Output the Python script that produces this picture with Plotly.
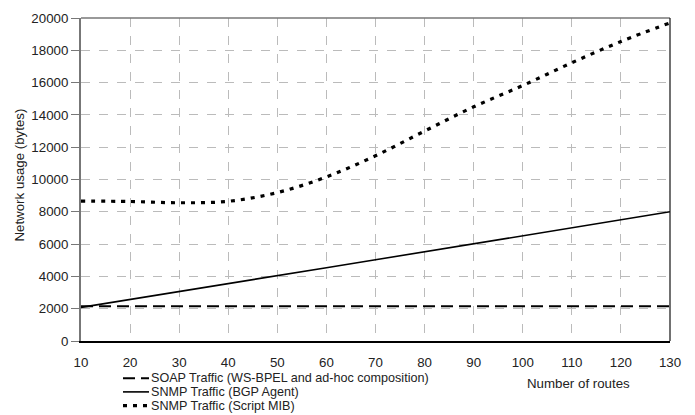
import plotly.graph_objects as go

# Number of routes (x) and network usage in bytes for each approach
routes = [10, 20, 30, 40, 50, 60, 70, 80, 90, 100, 110, 120, 130]
soap_ws_bpel = [2150, 2150, 2150, 2150, 2150, 2150, 2150, 2150, 2150, 2150, 2150, 2150, 2150]
snmp_bgp_agent = [2080, 2580, 3070, 3560, 4050, 4540, 5030, 5520, 6020, 6510, 7000, 7500, 8000]
snmp_script_mib = [8660, 8640, 8560, 8650, 9190, 10160, 11470, 13000, 14500, 15820, 17230, 18545, 19700]

series_names = [
    "SOAP Traffic (WS-BPEL and ad-hoc composition)",
    "SNMP Traffic (BGP Agent)",
    "SNMP Traffic (Script MIB)",
]
x_ticks = list(range(10, 131, 10))
y_ticks = list(range(0, 20001, 2000))

FONT = "Liberation Sans, Arial, Helvetica, sans-serif"
TXT = "#222222"
FS = 13.3
LEG_FS = 12.6

W, H = 695, 415
M_L, M_R, M_T, M_B = 81, 25, 11, 74
PLOT_H = H - M_T - M_B
PLOT_W = W - M_L - M_R

styles = [
    dict(color="black", width=2, dash="12px,6px"),
    dict(color="black", width=1.6, dash="solid"),
    dict(color="black", width=3.2, dash="4px,6px"),
]

fig = go.Figure()
for name, ys, st, shape in zip(series_names, [soap_ws_bpel, snmp_bgp_agent, snmp_script_mib], styles,
                               ["linear", "linear", "spline"]):
    fig.add_trace(go.Scatter(x=routes, y=ys, mode="lines", name=name,
                             line=dict(shape=shape, **st), showlegend=False))


def px_to_paper_x(px):
    return (px - M_L) / PLOT_W


def px_to_paper_y(py):
    return (H - M_B - py) / PLOT_H


# Hand-built compact legend below the plot
row_y = [379, 393, 407]
for name, st, py in zip(series_names, styles, row_y):
    yy = px_to_paper_y(py)
    fig.add_shape(type="line", xref="paper", yref="paper",
                  x0=px_to_paper_x(123), x1=px_to_paper_x(149), y0=yy, y1=yy,
                  line=dict(color="black", width=st["width"], dash=st["dash"]))
    fig.add_annotation(xref="paper", yref="paper", x=px_to_paper_x(150), y=yy,
                       text=name, showarrow=False, xanchor="left", yanchor="middle",
                       borderpad=0, font=dict(family=FONT, size=LEG_FS, color=TXT))

# Axis titles
fig.add_annotation(xref="paper", yref="paper", x=px_to_paper_x(578), y=px_to_paper_y(384),
                   text="Number of routes", showarrow=False, xanchor="center", yanchor="middle",
                   font=dict(family=FONT, size=FS, color=TXT))
fig.add_annotation(xref="paper", yref="paper", x=px_to_paper_x(20), y=px_to_paper_y(172),
                   text="Network usage (bytes)", showarrow=False, textangle=-90,
                   xanchor="center", yanchor="middle",
                   font=dict(family=FONT, size=FS, color=TXT))

# Frame: gray top edge, black right edge
fig.add_shape(type="line", xref="paper", yref="paper", x0=0, x1=1, y0=1, y1=1,
              line=dict(color="#777777", width=1.5))
fig.add_shape(type="line", xref="paper", yref="paper", x0=1, x1=1, y0=0, y1=1,
              line=dict(color="#111111", width=1.2))

fig.update_layout(
    width=W, height=H,
    margin=dict(l=M_L, r=M_R, t=M_T, b=M_B),
    paper_bgcolor="white", plot_bgcolor="white",
    font=dict(family=FONT, size=FS, color=TXT),
    showlegend=False,
)
fig.update_xaxes(
    range=[10, 130], tickvals=x_ticks, ticktext=[str(v) for v in x_ticks],
    showgrid=True, gridcolor="#bbbbbb", griddash="dash", gridwidth=1,
    showline=True, linecolor="black", linewidth=1.5,
    ticks="", ticklabelstandoff=8, zeroline=False,
    tickfont=dict(family=FONT, size=FS, color=TXT),
)
fig.update_yaxes(
    range=[0, 20000], tickvals=y_ticks, ticktext=[str(v) for v in y_ticks],
    showgrid=True, gridcolor="#bbbbbb", griddash="dash", gridwidth=1,
    showline=True, linecolor="#777777", linewidth=2,
    ticks="outside", ticklen=8, tickcolor="#777777", tickwidth=1,
    zeroline=False,
    tickfont=dict(family=FONT, size=FS, color=TXT),
)

fig.write_html("out.html")
